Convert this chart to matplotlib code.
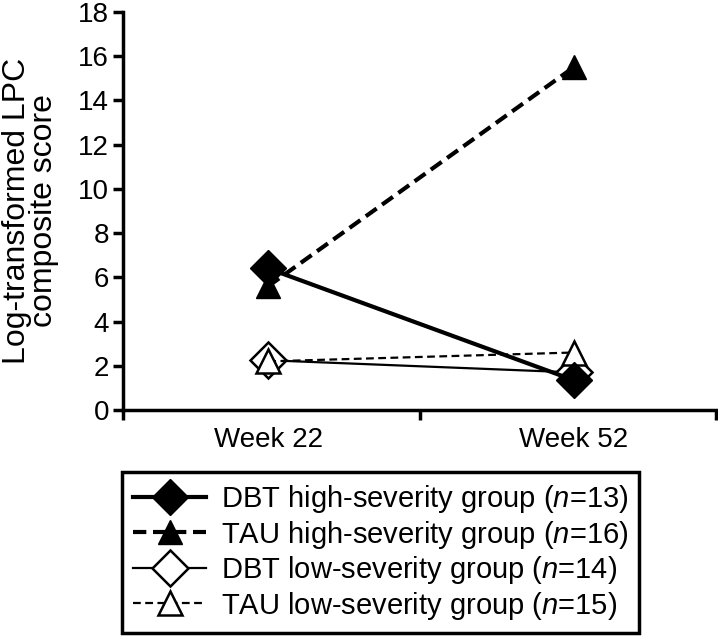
import matplotlib
matplotlib.use("Agg")
import matplotlib.pyplot as plt

plt.rcParams['font.family'] = ['Liberation Sans', 'DejaVu Sans']
plt.rcParams['mathtext.fontset'] = 'custom'
plt.rcParams['mathtext.it'] = 'Liberation Sans:italic'
plt.rcParams['mathtext.rm'] = 'Liberation Sans'

# data
semaines = ["Week 22", "Week 52"]
dbt_haut = [6.4, 1.35]
tau_haut = [5.6, 15.5]
dbt_bas = [2.25, 1.7]
tau_bas = [2.2, 2.6]
etiquettes = ["DBT high-severity group ($\\mathit{n}$=13)",
              "TAU high-severity group ($\\mathit{n}$=16)",
              "DBT low-severity group ($\\mathit{n}$=14)",
              "TAU low-severity group ($\\mathit{n}$=15)"]

taille = 20

fig = plt.figure(figsize=(7.18, 6.36), dpi=100)
ax = fig.add_axes([123 / 718, 1 - 410 / 636, (716 - 123) / 718, (410 - 12) / 636])

x = [0.49, 1.52]
ax.plot(x, dbt_haut, '-', color='black', lw=3, marker='D', ms=18,
        mfc='black', mec='black', label=etiquettes[0], zorder=4)
ax.plot(x, tau_haut, '--', color='black', lw=3, marker='^', ms=17,
        mfc='black', mec='black', dashes=(3.2, 1.6), label=etiquettes[1], zorder=4)
ax.plot(x, dbt_bas, '-', color='black', lw=1.6, marker='D', ms=18,
        mfc='white', mec='black', mew=1.8, label=etiquettes[2], zorder=3)
ax.plot(x, tau_bas, '--', color='black', lw=1.6, marker='^', ms=17,
        mfc='white', mec='black', mew=1.8, dashes=(3.5, 2), label=etiquettes[3], zorder=3)

ax.set_xlim(0, 2)
ax.set_ylim(0, 18)
ax.set_yticks(range(0, 19, 2))
ax.set_xticks([0, 1, 2])
ax.set_xticklabels([])
ax.set_xticks(x, minor=True)
ax.set_xticklabels(semaines, minor=True)
ax.tick_params(axis='x', which='minor', length=0, pad=12, labelsize=taille)
ax.tick_params(axis='both', which='major', width=2.5, length=7, direction='out',
               labelsize=taille, pad=3)
ax.spines['top'].set_visible(False)
ax.spines['right'].set_visible(False)
ax.spines['left'].set_linewidth(2.5)
ax.spines['bottom'].set_linewidth(2.5)
ax.set_ylabel("Log-transformed LPC\ncomposite score", fontsize=23,
              linespacing=0.88)
ax.yaxis.set_label_coords(-0.108, 0.5)

leg = fig.legend(loc='upper left', bbox_to_anchor=(122 / 718, 1 - 472 / 636),
                 fontsize=21, frameon=True, fancybox=False, edgecolor='black',
                 framealpha=1, handlelength=2.5, handletextpad=0.5, borderpad=0.38,
                 labelspacing=0.12, borderaxespad=0)
leg.get_frame().set_linewidth(2.5)

fig.savefig("out.png", dpi=100)
